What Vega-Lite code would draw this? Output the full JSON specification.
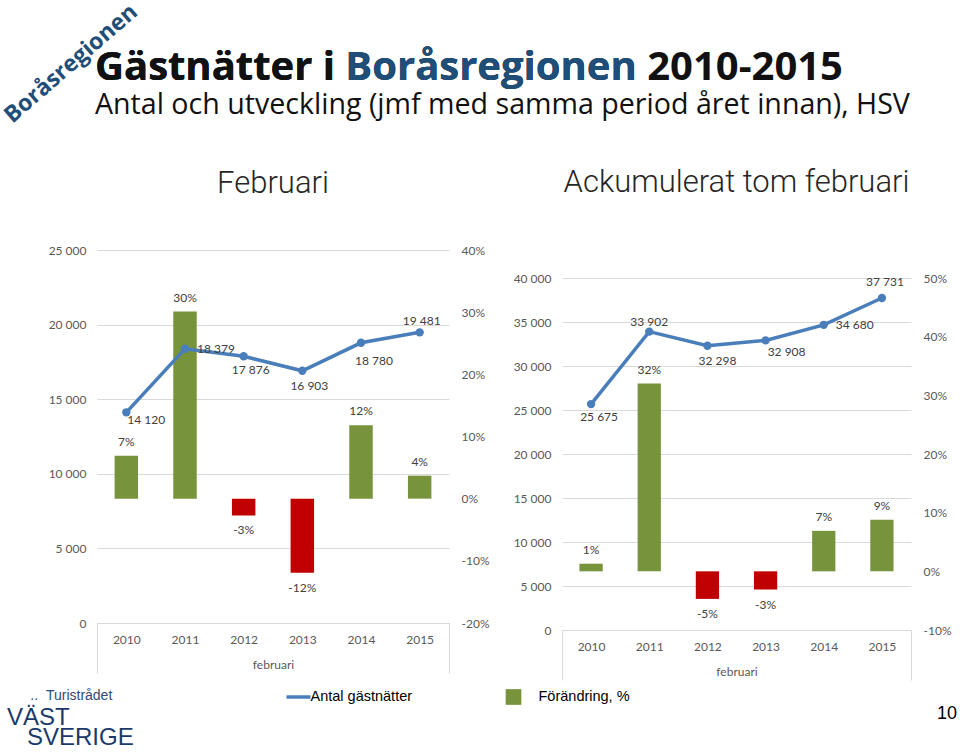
{
  "$schema": "https://vega.github.io/schema/vega-lite/v6.json",
  "background": "white",
  "padding": {"left": 0, "top": 0, "right": 0, "bottom": 0},
  "datasets": {
    "feb": [
      {"year": "2010", "count": 14120, "pct": 0.069},
      {"year": "2011", "count": 18379, "pct": 0.301},
      {"year": "2012", "count": 17876, "pct": -0.027},
      {"year": "2013", "count": 16903, "pct": -0.119},
      {"year": "2014", "count": 18780, "pct": 0.118},
      {"year": "2015", "count": 19481, "pct": 0.037}
    ],
    "ack": [
      {"year": "2010", "count": 25675, "pct": 0.013},
      {"year": "2011", "count": 33902, "pct": 0.32},
      {"year": "2012", "count": 32298, "pct": -0.047},
      {"year": "2013", "count": 32908, "pct": -0.031},
      {"year": "2014", "count": 34680, "pct": 0.069},
      {"year": "2015", "count": 37731, "pct": 0.088}
    ]
  },
  "title": {"text": "Boråsregionen", "angle": -41, "font": "Open Sans", "fontSize": 23, "fontWeight": "bold", "color": "#1F4E79", "anchor": "start", "frame": "group", "offset": 0, "dx": -197.3, "dy": 80},
  "vconcat": [{
    "title": {"text": "10", "orient": "bottom", "anchor": "end", "frame": "group", "font": "Liberation Sans", "fontSize": 18, "fontWeight": "normal", "color": "#000000", "offset": 0, "dx": 860, "dy": -45},
    "vconcat": [{
      "title": {"text": "\u200b\u00a0\u00a0\u00a0\u00a0\u00a0\u00a0..\u00a0\u00a0Turistrådet", "subtitle": ["VÄST", "\u200b\u00a0\u00a0\u00a0SVERIGE"], "orient": "bottom", "anchor": "start", "frame": "group", "font": "Liberation Sans", "fontSize": 14, "fontWeight": "normal", "color": "#2E4B7A", "subtitleFont": "Liberation Sans", "subtitleFontSize": 24, "subtitleColor": "#1B3A6B", "subtitleLineHeight": 20, "subtitlePadding": 3, "offset": 8, "dx": -90},
      "vconcat": [{
        "title": {"text": "Gästnätter i", "font": "Open Sans", "fontSize": 40, "fontWeight": "bold", "color": "#111111", "anchor": "start", "frame": "group", "offset": 0, "dx": -2, "dy": 40},
        "vconcat": [{
          "title": {"text": "Gästnätter i Boråsregionen", "font": "Open Sans", "fontSize": 40, "fontWeight": "bold", "color": "#1F4E79", "anchor": "start", "frame": "group", "offset": 0, "dx": -2, "dy": 40},
          "vconcat": [{
            "title": {"text": "Gästnätter i Boråsregionen 2010-2015", "subtitle": "Antal och utveckling (jmf med samma period året innan), HSV", "font": "Open Sans", "fontSize": 40, "fontWeight": "bold", "color": "#111111", "subtitleFont": "Open Sans", "subtitleFontSize": 28.6, "subtitleColor": "#111111", "subtitlePadding": 3, "anchor": "start", "frame": "group", "offset": 47, "dx": -2},
            "spacing": 24,
            "hconcat": [
              {
                "width": 352, "height": 373,
                "title": {"text": "Februari", "font": "Roboto", "fontSize": 31, "fontWeight": 300, "color": "#262626", "anchor": "middle", "offset": 44.5},
                "data": {"name": "feb"},
                "encoding": {
                  "x": {"field": "year", "type": "nominal", "scale": {"paddingInner": 0, "paddingOuter": 0},
                    "axis": {"title": "februari", "titleY": 36, "labelAngle": 0, "labelPadding": -39, "domain": true, "domainColor": "#D9D9D9", "ticks": true, "tickBand": "extent", "tickSize": 50,
                      "tickColor": {"condition": {"test": "!isValid(datum.value) || datum.value === '2015'", "value": "#D9D9D9"}, "value": "transparent"}}}
                },
                "layer": [
                  {
                    "encoding": {"y": {"field": "pct", "type": "quantitative", "scale": {"domain": [-0.2, 0.4], "nice": false, "zero": false},
                      "axis": {"orient": "right", "title": null, "values": [-0.2, -0.1, 0, 0.1, 0.2, 0.3, 0.4], "format": ".0%", "labelPadding": 12, "grid": false}}},
                    "layer": [
                      {"mark": {"type": "bar", "width": {"band": 0.4}},
                       "encoding": {"y2": {"datum": 0},
                         "fill": {"condition": {"test": "datum.pct < 0", "value": "#C00000"}, "datum": "Förändring, %",
                           "scale": {"range": ["#77933C"]},
                           "legend": {"orient": "none", "legendX": 407.5, "legendY": 438, "title": null, "symbolType": "square",
                             "labelFont": "Liberation Sans", "labelFontSize": 14.5, "labelColor": "#000000",
                             "symbolSize": 246, "labelOffset": 16}}}},
                      {"transform": [{"filter": "datum.pct >= 0"}], "mark": {"type": "text", "dy": -14}, "encoding": {"text": {"field": "pct", "type": "quantitative", "format": ".0%"}}},
                      {"transform": [{"filter": "datum.pct < 0"}], "mark": {"type": "text", "dy": 15}, "encoding": {"text": {"field": "pct", "type": "quantitative", "format": ".0%"}}}
                    ]
                  },
                  {
                    "encoding": {"y": {"field": "count", "type": "quantitative", "scale": {"domain": [0, 25000], "nice": false},
                      "axis": {"orient": "left", "title": null, "values": [0, 5000, 10000, 15000, 20000, 25000], "format": ",d", "labelPadding": 11, "grid": true, "gridColor": "#D9D9D9"}}},
                    "layer": [
                      {"mark": {"type": "line", "strokeWidth": 3.5},
                       "encoding": {"stroke": {"datum": "Antal gästnätter", "scale": {"range": ["#4A7EBB"]},
                         "legend": {"orient": "none", "legendX": 187.5, "legendY": 433, "title": null, "symbolType": "stroke",
                           "labelFont": "Liberation Sans", "labelFontSize": 14.5, "labelColor": "#000000",
                           "symbolSize": 576, "symbolStrokeWidth": 3.5, "labelOffset": -2}}}},
                      {"mark": {"type": "point", "filled": true, "size": 70, "opacity": 1, "color": "#4A7EBB"}},
                      {"transform": [{"filter": "datum.year === '2010'"}], "mark": {"type": "text", "align": "left", "dx": 1, "dy": 8}, "encoding": {"text": {"field": "count", "type": "quantitative", "format": ","}}},
                      {"transform": [{"filter": "datum.year === '2011'"}], "mark": {"type": "text", "align": "left", "dx": 12, "dy": 0}, "encoding": {"text": {"field": "count", "type": "quantitative", "format": ","}}},
                      {"transform": [{"filter": "datum.year === '2012'"}], "mark": {"type": "text", "dx": 7, "dy": 14}, "encoding": {"text": {"field": "count", "type": "quantitative", "format": ","}}},
                      {"transform": [{"filter": "datum.year === '2013'"}], "mark": {"type": "text", "dx": 7, "dy": 15}, "encoding": {"text": {"field": "count", "type": "quantitative", "format": ","}}},
                      {"transform": [{"filter": "datum.year === '2014'"}], "mark": {"type": "text", "dx": 13, "dy": 18}, "encoding": {"text": {"field": "count", "type": "quantitative", "format": ","}}},
                      {"transform": [{"filter": "datum.year === '2015'"}], "mark": {"type": "text", "dx": 2, "dy": -11}, "encoding": {"text": {"field": "count", "type": "quantitative", "format": ","}}}
                    ]
                  }
                ],
                "resolve": {"scale": {"y": "independent"}}
              },
              {
                "width": 349, "height": 380,
                "title": {"text": "Ackumulerat tom februari", "font": "Roboto", "fontSize": 31, "fontWeight": 300, "color": "#262626", "anchor": "middle", "offset": 51.5},
                "data": {"name": "ack"},
                "encoding": {
                  "x": {"field": "year", "type": "nominal", "scale": {"paddingInner": 0, "paddingOuter": 0},
                    "axis": {"title": "februari", "titleY": 36, "labelAngle": 0, "labelPadding": -38.5, "domain": true, "domainColor": "#D9D9D9", "ticks": true, "tickBand": "extent", "tickSize": 50,
                      "tickColor": {"condition": {"test": "!isValid(datum.value) || datum.value === '2015'", "value": "#D9D9D9"}, "value": "transparent"}}}
                },
                "layer": [
                  {
                    "encoding": {"y": {"field": "pct", "type": "quantitative", "scale": {"domain": [-0.1, 0.5], "nice": false, "zero": false, "range": [380, 28]},
                      "axis": {"orient": "right", "title": null, "values": [-0.1, 0, 0.1, 0.2, 0.3, 0.4, 0.5], "format": ".0%", "labelPadding": 12, "grid": false}}},
                    "layer": [
                      {"mark": {"type": "bar", "width": {"band": 0.4}},
                       "encoding": {"y2": {"datum": 0},
                         "fill": {"condition": {"test": "datum.pct < 0", "value": "#C00000"}, "datum": "Förändring, %"}}},
                      {"transform": [{"filter": "datum.pct >= 0"}], "mark": {"type": "text", "dy": -14}, "encoding": {"text": {"field": "pct", "type": "quantitative", "format": ".0%"}}},
                      {"transform": [{"filter": "datum.pct < 0"}], "mark": {"type": "text", "dy": 15}, "encoding": {"text": {"field": "pct", "type": "quantitative", "format": ".0%"}}}
                    ]
                  },
                  {
                    "encoding": {"y": {"field": "count", "type": "quantitative", "scale": {"domain": [0, 40000], "nice": false, "range": [380, 28]},
                      "axis": {"orient": "left", "title": null, "values": [0, 5000, 10000, 15000, 20000, 25000, 30000, 35000, 40000], "format": ",d", "labelPadding": 11, "grid": true, "gridColor": "#D9D9D9"}}},
                    "layer": [
                      {"mark": {"type": "line", "strokeWidth": 3.5}, "encoding": {"stroke": {"datum": "Antal gästnätter"}}},
                      {"mark": {"type": "point", "filled": true, "size": 70, "opacity": 1, "color": "#4A7EBB"}},
                      {"transform": [{"filter": "datum.year === '2010'"}], "mark": {"type": "text", "dx": 8, "dy": 13}, "encoding": {"text": {"field": "count", "type": "quantitative", "format": ","}}},
                      {"transform": [{"filter": "datum.year === '2011'"}], "mark": {"type": "text", "dx": 0, "dy": -10}, "encoding": {"text": {"field": "count", "type": "quantitative", "format": ","}}},
                      {"transform": [{"filter": "datum.year === '2012'"}], "mark": {"type": "text", "dx": 10, "dy": 15}, "encoding": {"text": {"field": "count", "type": "quantitative", "format": ","}}},
                      {"transform": [{"filter": "datum.year === '2013'"}], "mark": {"type": "text", "dx": 21, "dy": 12}, "encoding": {"text": {"field": "count", "type": "quantitative", "format": ","}}},
                      {"transform": [{"filter": "datum.year === '2014'"}], "mark": {"type": "text", "align": "left", "dx": 12, "dy": 0}, "encoding": {"text": {"field": "count", "type": "quantitative", "format": ","}}},
                      {"transform": [{"filter": "datum.year === '2015'"}], "mark": {"type": "text", "dx": 3, "dy": -16}, "encoding": {"text": {"field": "count", "type": "quantitative", "format": ","}}}
                    ]
                  }
                ],
                "resolve": {"scale": {"y": "independent"}}
              }
            ]
          }]
        }]
      }]
    }]
  }],
  "config": {
    "view": {"stroke": null},
    "font": "Lato",
    "locale": {"number": {"decimal": ",", "thousands": " ", "grouping": [3], "currency": ["", " kr"], "minus": "-"}},
    "axis": {"labelFont": "Lato", "labelFontSize": 12, "labelColor": "#595959", "titleFont": "Lato", "titleFontSize": 12, "titleFontWeight": "normal", "titleColor": "#595959", "domain": false, "ticks": false, "grid": false},
    "text": {"font": "Lato", "fontSize": 12, "color": "#404040", "baseline": "middle", "align": "center"}
  }
}
